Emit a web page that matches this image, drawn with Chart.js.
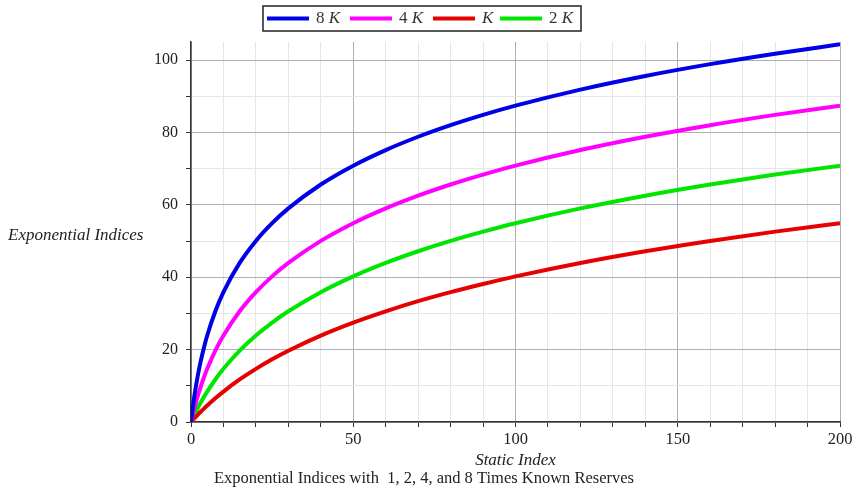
<!DOCTYPE html>
<html>
<head>
<meta charset="utf-8">
<script src="https://cdn.jsdelivr.net/npm/chart.js@4"></script>
<style>
  html, body { margin: 0; padding: 0; background: #fff; }
  #wrap { width: 857px; height: 489px; }
</style>
</head>
<body>
<div id="wrap"><canvas id="eiChart" width="857" height="489"></canvas></div>
<script>
// Static index (x) sample points
const staticIndex = [0, 1, 2, 3, 4, 5, 7.5, 10, 15, 20, 25, 30, 40, 50, 60, 70, 80, 90, 100, 120, 140, 160, 180, 200];

// Exponential index values
const ei8K = [0, 6.94, 12.37, 16.82, 20.60, 23.89, 30.59, 35.88, 43.95, 50.04, 54.93, 59.02, 65.62, 70.83, 75.14, 78.82, 82.02, 84.86, 87.41, 91.84, 95.61, 98.88, 101.77, 104.36];
const ei4K = [0, 3.71, 6.94, 9.80, 12.37, 14.69, 19.71, 23.89, 30.59, 35.88, 40.24, 43.95, 50.04, 54.93, 59.02, 62.54, 65.62, 68.36, 70.83, 75.14, 78.82, 82.02, 84.86, 87.41];
const ei1K = [0, 0.98, 1.92, 2.83, 3.71, 4.56, 6.56, 8.41, 11.75, 14.69, 17.33, 19.71, 23.89, 27.47, 30.59, 33.38, 35.88, 38.15, 40.24, 43.95, 47.18, 50.04, 52.60, 54.93];
const ei2K = [0, 1.92, 3.71, 5.38, 6.94, 8.41, 11.75, 14.69, 19.71, 23.89, 27.47, 30.59, 35.88, 40.24, 43.95, 47.18, 50.04, 52.60, 54.93, 59.02, 62.54, 65.62, 68.36, 70.83];

// Tick positions (minor + major)
const xTicks = [0, 10, 20, 30, 40, 50, 60, 70, 80, 90, 100, 110, 120, 130, 140, 150, 160, 170, 180, 190, 200];
const yTicks = [0, 10, 20, 30, 40, 50, 60, 70, 80, 90, 100];

// Legend labels: [plain part, italic part]
const legendLabels = [['8 ', 'K'], ['4 ', 'K'], ['', 'K'], ['2 ', 'K']];
const colors = ['#0000e6', '#ff00ff', '#e60000', '#00e600'];

const SERIF = '"Liberation Serif", "DejaVu Serif", serif';

function pts(ys) {
  return staticIndex.map((x, i) => ({ x: x, y: ys[i] }));
}

function makeSet(ys, i) {
  return {
    data: pts(ys),
    borderColor: colors[i],
    backgroundColor: colors[i],
    borderWidth: 4,
    pointRadius: 0,
    fill: false,
    cubicInterpolationMode: 'monotone'
  };
}

// legend, axis titles and caption drawn by hand (mixed italic text)
const textPlugin = {
  id: 'textPlugin',
  afterDraw(chart) {
    const ctx = chart.ctx;
    const area = chart.chartArea;
    ctx.save();

    // legend box
    ctx.strokeStyle = '#222';
    ctx.lineWidth = 1.5;
    ctx.strokeRect(263, 6, 318, 25);
    const swatchX = [267, 350, 433, 500];
    ctx.textBaseline = 'middle';
    chart.data.datasets.forEach((ds, i) => {
      const sx = swatchX[i];
      ctx.strokeStyle = ds.borderColor;
      ctx.lineWidth = 4;
      ctx.beginPath();
      ctx.moveTo(sx, 18.5);
      ctx.lineTo(sx + 42, 18.5);
      ctx.stroke();
      let tx = sx + 49;
      ctx.fillStyle = '#333';
      ctx.font = '17px ' + SERIF;
      ctx.fillText(legendLabels[i][0], tx, 19);
      tx += ctx.measureText(legendLabels[i][0]).width;
      ctx.font = 'italic 17px ' + SERIF;
      ctx.fillText(legendLabels[i][1], tx, 19);
    });

    // y axis title (horizontal)
    ctx.fillStyle = '#222';
    ctx.font = 'italic 17px ' + SERIF;
    ctx.textAlign = 'left';
    ctx.fillText('Exponential Indices', 8, 236);

    // x axis title
    ctx.textAlign = 'center';
    ctx.fillText('Static Index', (area.left + area.right) / 2, 461);

    // caption
    ctx.font = '16.5px ' + SERIF;
    ctx.fillText('Exponential Indices with  1, 2, 4, and 8 Times Known Reserves', 424, 479);
    ctx.restore();
  }
};

function gridColor(ctx, major) {
  const v = ctx.tick ? ctx.tick.value : 0;
  return v % major === 0 ? '#b0b0b0' : '#e6e6e6';
}

new Chart(document.getElementById('eiChart'), {
  type: 'line',
  data: {
    datasets: [makeSet(ei8K, 0), makeSet(ei4K, 1), makeSet(ei1K, 2), makeSet(ei2K, 3)]
  },
  options: {
    responsive: false,
    animation: false,
    layout: { padding: { top: 42, right: 17, left: 0, bottom: 0 } },
    plugins: {
      legend: { display: false },
      tooltip: { enabled: false }
    },
    scales: {
      x: {
        type: 'linear',
        min: 0,
        max: 200,
        afterFit(scale) { scale.height = 67; },
        afterBuildTicks(scale) { scale.ticks = xTicks.map(v => ({ value: v })); },
        ticks: {
          autoSkip: false,
          maxRotation: 0,
          padding: 3,
          color: '#222',
          font: { family: SERIF, size: 16.5 },
          callback: v => (v % 50 === 0 ? v : '')
        },
        grid: {
          color: c => gridColor(c, 50),
          tickColor: '#333',
          tickLength: 5,
          lineWidth: 1
        },
        border: { color: '#333', width: 1.5 }
      },
      y: {
        type: 'linear',
        min: 0,
        max: 105,
        afterFit(scale) { scale.width = 191; },
        afterBuildTicks(scale) { scale.ticks = yTicks.map(v => ({ value: v })); },
        ticks: {
          autoSkip: false,
          padding: 8,
          color: '#222',
          font: { family: SERIF, size: 16 },
          callback: v => (v % 20 === 0 ? v : '')
        },
        grid: {
          color: c => gridColor(c, 20),
          tickColor: '#333',
          tickLength: 5,
          lineWidth: 1
        },
        border: { color: '#333', width: 1.5 }
      }
    }
  },
  plugins: [textPlugin]
});
</script>
</body>
</html>
